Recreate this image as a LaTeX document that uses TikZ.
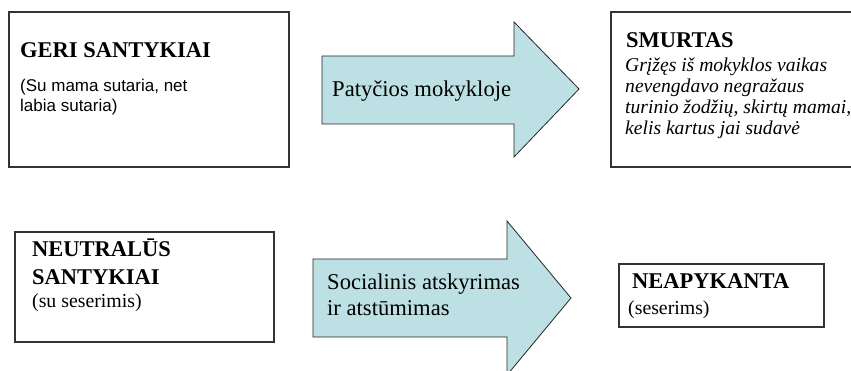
\documentclass[tikz,border=0pt]{standalone}
\usepackage{fontspec}
\setmainfont{Liberation Serif}
\newfontfamily\tnr{Liberation Serif}
\newfontfamily\arialf{Liberation Sans}
\definecolor{arrowfill}{HTML}{BCE0E3}
\definecolor{boxline}{HTML}{333333}
\tikzset{
  box/.style={draw=boxline, line width=1.1pt, fill=white},
  blockarrow/.style={draw=black!85, line width=0.8pt, fill=arrowfill, line join=miter},
  txt/.style={anchor=base west, inner sep=0pt, text=black},
  headtxt/.style={txt, font=\tnr\fontsize{22.5}{26}\selectfont\bfseries},
  arrtxt/.style={txt, font=\tnr\fontsize{22.6}{26}\selectfont},
  ittxt/.style={txt, font=\tnr\fontsize{19.6}{21}\selectfont\itshape},
  partxt/.style={txt, font=\tnr\fontsize{19.8}{22}\selectfont},
  sanstxt/.style={txt, font=\arialf\fontsize{17}{20}\selectfont},
}
\begin{document}
\begin{tikzpicture}[x=1pt,y=-1pt]
\useasboundingbox (0,0) rectangle (851,371);
\clip (0,0) rectangle (851,371);
% boxes
\draw[box] (9,12) rectangle (289,167);
\draw[box] (611,12) rectangle (875,167);
\draw[box] (15,232) rectangle (274,342);
\draw[box] (619,264) rectangle (824,327);
% block arrows
\draw[blockarrow] (322,56) -- (514,56) -- (514,22) -- (579,89) -- (514,157) -- (514,124) -- (322,124) -- cycle;
\draw[blockarrow] (313,259) -- (507,259) -- (507,221) -- (571,298) -- (507,375) -- (507,337) -- (313,337) -- cycle;
% box 1
\node[headtxt] (g1) at (20,58) {GERI SANTYKIAI};
\node[sanstxt] (g2) at (20,92) {(Su mama sutaria, net};
\node[sanstxt] (g3) at (20,112) {labia sutaria)};
% arrow 1
\node[arrtxt] (a1) at (332,97) {Patyčios mokykloje};
% box 3
\node[headtxt] (s1) at (626,48) {SMURTAS};
\node[ittxt] (s2) at (625,72) {Grįžęs iš mokyklos vaikas};
\node[ittxt] (s3) at (625,93) {nevengdavo negražaus};
\node[ittxt] (s4) at (625,114) {turinio žodžių, skirtų mamai,};
\node[ittxt] (s5) at (625,135) {kelis kartus jai sudavė};
% box 4
\node[headtxt] (n1) at (32,257) {NEUTRALŪS};
\node[headtxt] (n2) at (32,284) {SANTYKIAI};
\node[partxt] (n3) at (32,307) {(su seserimis)};
% arrow 2
\node[arrtxt] (a2) at (327,290) {Socialinis atskyrimas};
\node[arrtxt] (a3) at (327,316) {ir atstūmimas};
% box 6
\node[headtxt] (p1) at (632,289) {NEAPYKANTA};
\node[partxt] (p2) at (628,314) {(seserims)};
\end{tikzpicture}
\end{document}
